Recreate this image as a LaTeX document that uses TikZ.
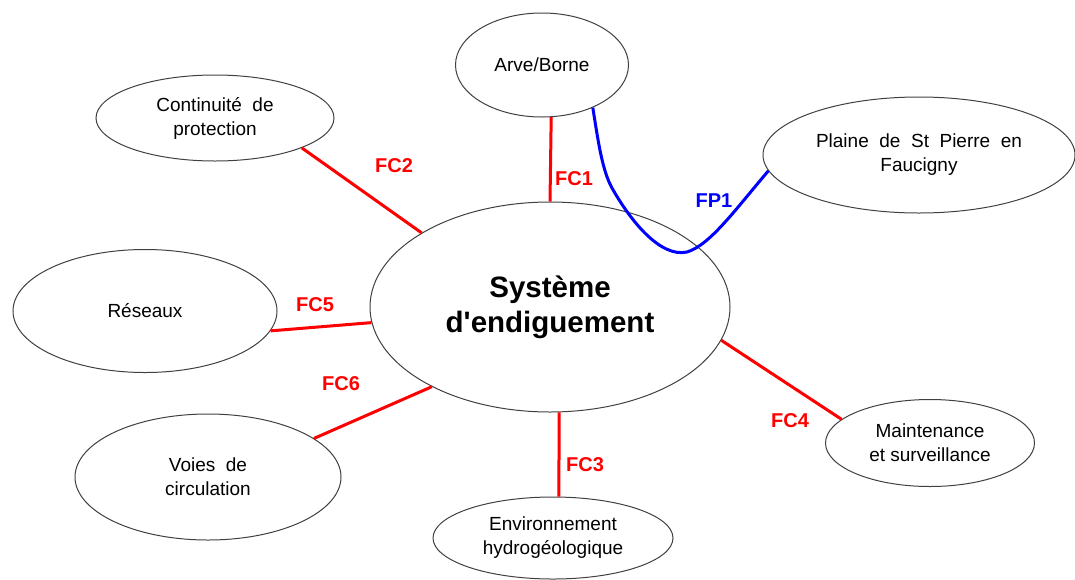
\documentclass[tikz,border=0pt]{standalone}
\usepackage{fontspec}
\setmainfont{Liberation Sans}
\usetikzlibrary{shapes.geometric}

\tikzset{
  bubble/.style={ellipse, draw=black!75, line width=1pt, inner sep=0pt,
    align=center, font=\fontsize{19}{24}\selectfont},
  fc/.style={draw=red, line width=3pt},
  fp/.style={draw=blue, line width=3pt},
  fclabel/.style={text=red, font=\fontsize{20}{24}\selectfont\bfseries},
  fplabel/.style={text=blue, font=\fontsize{20}{24}\selectfont\bfseries}
}

\begin{document}
\begin{tikzpicture}[x=1pt,y=-1pt]
\useasboundingbox (0,0) rectangle (1075,579);

% central system (straight apostrophe kept as typed)
\node[bubble, minimum width=360pt, minimum height=210pt,
      font=\fontsize{29.5}{35}\selectfont\bfseries\addfontfeature{Ligatures=TeXOff}] (sys) at (550,307)
      {Système\\d'endiguement};

% surrounding elements
\node[bubble, minimum width=173pt, minimum height=104pt] (arve) at (542,65) {Arve/Borne};
\node[bubble, minimum width=238pt, minimum height=86pt] (cont) at (215,118) {Continuité~~de\\protection};
\node[bubble, minimum width=312pt, minimum height=116pt] (plaine) at (919,155) {Plaine~~de~~St~~Pierre~~en\\Faucigny};
\node[bubble, minimum width=264pt, minimum height=123pt] (reseaux) at (145,311) {Réseaux};
\node[bubble, minimum width=266pt, minimum height=126pt] (voies) at (208,477) {Voies~~de\\circulation};
\node[bubble, minimum width=240pt, minimum height=82pt] (env) at (553,538) {Environnement\\hydrogéologique};
\node[bubble, minimum width=209pt, minimum height=87pt] (maint) at (930,443) {Maintenance\\et surveillance};

% constraint functions
\draw[fc] (arve.-80) -- (sys.north);
\draw[fc] (cont.-19) -- (sys.150);
\draw[fc] (reseaux.-9.5) -- (sys.185);
\draw[fc] (voies.20) -- (sys.214);
\draw[fc] (sys.-85) -- (env.82);
\draw[fc] (sys.-11) -- (maint.165);

% principal function
\draw[fp] (arve.-40) .. controls (598,140) and (602,170) .. (612,188)
          .. controls (630,220) and (660,258) .. (687,252)
          .. controls (710,245) and (735,210) .. (plaine.186);

% labels
\node[fclabel] (l1) at (574,179) {FC1};
\node[fclabel] (l2) at (394,166) {FC2};
\node[fclabel] (l5) at (315,305) {FC5};
\node[fclabel] (l6) at (341,384) {FC6};
\node[fclabel] (l3) at (585,465) {FC3};
\node[fclabel] (l4) at (790,421) {FC4};
\node[fplabel] (p1) at (714,201) {FP1};
\end{tikzpicture}
\end{document}
